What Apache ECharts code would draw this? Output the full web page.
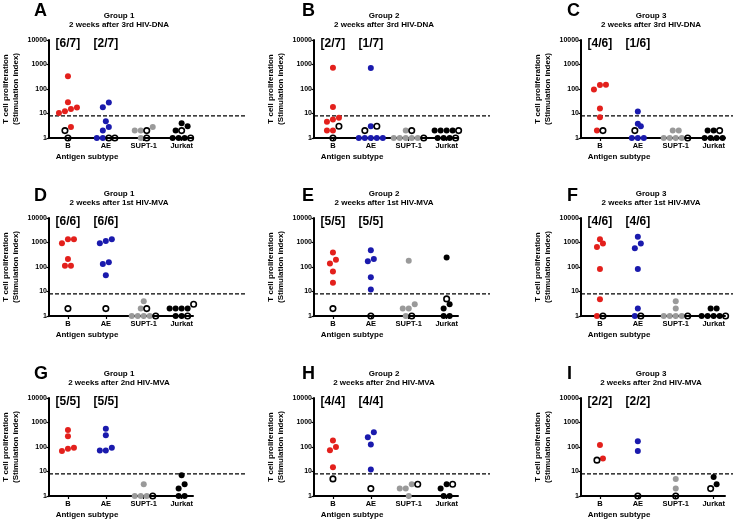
<!DOCTYPE html>
<html><head><meta charset="utf-8">
<script src="https://cdn.jsdelivr.net/npm/echarts/dist/echarts.min.js"></script>
<style>html,body{margin:0;padding:0;background:#fff}#main{width:733px;height:522px}</style>
</head><body><div id="main"></div>
<script>
// ---------- data ----------
const categories = ['B', 'AE', 'SUPT-1', 'Jurkat'];
const groupTitles = ['Group 1', 'Group 2', 'Group 3'];
const timepoints = ['2 weeks after 3rd HIV-DNA', '2 weeks after 1st HIV-MVA', '2 weeks after 2nd HIV-MVA'];
const panelLetters = ['A', 'B', 'C', 'D', 'E', 'F', 'G', 'H', 'I'];
const yTicks = [1, 10, 100, 1000, 10000];
const cutoff = 8;

// vaccinated animals (filled dots) per antigen: B, AE, SUPT-1, Jurkat
const vaccA = [[333, 29, 17.4, 15.4, 12.3, 10.5, 2.8], [28, 18, 4.8, 2.8, 2, 1, 1], [2.8, 2, 2, 1], [4, 3, 2, 1, 1, 1]];
const vaccB = [[740, 18.6, 6.7, 5.7, 4.6, 2, 2], [720, 3, 1, 1, 1, 1, 1], [2, 1, 1, 1, 1, 1], [2, 2, 2, 2, 1, 1, 1]];
const vaccC = [[150, 145, 95, 16, 7, 2], [12, 3.8, 3, 1, 1, 1], [2, 2, 1, 1, 1, 1], [2, 2, 1, 1, 1, 1]];
const vaccD = [[1350, 1350, 930, 210, 113, 113], [1350, 1150, 930, 155, 132, 46], [4, 2, 1, 1, 1, 1], [2, 2, 2, 2, 1, 1]];
const vaccE = [[390, 198, 140, 65, 23], [480, 210, 170, 38, 12], [180, 3, 2, 2, 1], [245, 3, 2, 1, 1]];
const vaccF = [[1350, 900, 660, 83, 4.8, 1], [1700, 900, 580, 83, 2, 1], [4, 2, 1, 1, 1, 1], [2, 2, 1, 1, 1, 1]];
const vaccG = [[490, 277, 93, 85, 68], [550, 305, 93, 72, 72], [3, 1, 1, 1], [7, 3, 2, 1, 1]];
const vaccH = [[185, 100, 74, 15], [400, 250, 126, 12.2], [3, 2, 2, 1], [3, 2, 1, 1]];
const vaccI = [[120, 34], [173, 68], [5, 2], [6, 3]];

// control animals (open circles)
const ctrlA = [[2, 1], [1, 1], [2, 1], [2, 1]];
const ctrlB = [[3, 1], [2, 3], [2, 1], [2, 1]];
const ctrlC = [[2], [2], [1], [2]];
const ctrlD = [[2], [2], [2, 1], [3, 1]];
const ctrlE = [[2], [1], [1], [5]];
const ctrlF = [[1], [1], [1], [1]];
const ctrlG = [[], [], [1], []];
const ctrlH = [[5], [2], [3], [3]];
const ctrlI = [[29], [1], [1], [2]];

// responders [B, AE]
const respA = ['[6/7]', '[2/7]'];
const respB = ['[2/7]', '[1/7]'];
const respC = ['[4/6]', '[1/6]'];
const respD = ['[6/6]', '[6/6]'];
const respE = ['[5/5]', '[5/5]'];
const respF = ['[4/6]', '[4/6]'];
const respG = ['[5/5]', '[5/5]'];
const respH = ['[4/4]', '[4/4]'];
const respI = ['[2/2]', '[2/2]'];

const vaccs = [vaccA, vaccB, vaccC, vaccD, vaccE, vaccF, vaccG, vaccH, vaccI];
const ctrls = [ctrlA, ctrlB, ctrlC, ctrlD, ctrlE, ctrlF, ctrlG, ctrlH, ctrlI];
const resps = [respA, respB, respC, respD, respE, respF, respG, respH, respI];

// ---------- layout / style ----------
const FONT = 'Arial, "Liberation Sans", sans-serif';
const colors = ['#e3201c', '#1a1aad', '#9a9a9a', '#000000'];
const colLeft = [49, 314, 581];
const colEnd = [245, 490, 733];
const rowTop = [40, 218, 398];
const letterX = [34, 302, 567];
const letterY = [11.5, 196.5, 374.5];
const W = 144, H = 98, X_MAX = 3.8;
const SYM = 6;
const unitPx = W / X_MAX;
const pxPerDecade = H / 4;
const rowSpan = SYM / pxPerDecade;

function swarm(points) {
  const pts = points.slice().sort((a, b) => a.v - b.v);
  const rows = [];
  let cur = null;
  pts.forEach(p => {
    const lv = Math.log10(p.v);
    if (!cur || lv - cur.start >= rowSpan) { cur = { start: lv, items: [] }; rows.push(cur); }
    cur.items.push(p);
  });
  rows.forEach(r => r.items.forEach((p, i) => { p.dx = (i - (r.items.length - 1) / 2) * SYM / unitPx; }));
  return pts;
}

const grid = [], xAxis = [], yAxis = [], series = [], graphic = [];
const catPos = categories.map((c, i) => i + 0.5);

for (let k = 0; k < 9; k++) {
  const r = Math.floor(k / 3), c = k % 3;
  const L = colLeft[c], T = rowTop[r];
  const gi = grid.length;
  grid.push({ left: L, top: T, width: W, height: H });
  grid.push({ left: L, top: T, width: colEnd[c] - L, height: H });
  xAxis.push({
    gridIndex: gi, type: 'value', min: 0, max: X_MAX,
    axisLine: { show: true, onZero: false, lineStyle: { color: '#000', width: 2 } },
    axisTick: { show: true, customValues: catPos, length: 3, lineStyle: { color: '#000', width: 1.2 } },
    axisLabel: { show: true, customValues: catPos, margin: 4, color: '#000', fontSize: 7.5, fontWeight: 'bold', fontFamily: FONT,
      formatter: v => categories[Math.round(v - 0.5)] },
    splitLine: { show: false }
  });
  xAxis.push({ gridIndex: gi + 1, type: 'value', min: 0, max: 1, show: false });
  yAxis.push({
    gridIndex: gi, type: 'log', logBase: 10, min: yTicks[0], max: yTicks[yTicks.length - 1],
    name: 'T cell proliferation\n(Stimulation index)', nameLocation: 'middle', nameGap: 28, nameRotate: 90,
    nameTextStyle: { fontSize: 8, fontWeight: 'bold', fontFamily: FONT, color: '#000', lineHeight: 10 },
    axisLine: { show: true, onZero: false, lineStyle: { color: '#000', width: 2 } },
    axisTick: { show: true, length: 2.5, lineStyle: { color: '#000', width: 1.2 } },
    axisLabel: { show: true, margin: 2, color: '#000', fontSize: 7, fontWeight: 'bold', fontFamily: FONT,
      formatter: v => String(Math.round(v)) },
    splitLine: { show: false }, minorTick: { show: false }
  });
  yAxis.push({ gridIndex: gi + 1, type: 'log', logBase: 10, min: yTicks[0], max: yTicks[yTicks.length - 1], show: false });

  const filled = categories.map(() => []);
  const open = [];
  categories.forEach((cat, i) => {
    const pts = vaccs[k][i].map(v => ({ v, kind: 'v' })).concat(ctrls[k][i].map(v => ({ v, kind: 'c' })));
    swarm(pts).forEach(p => {
      const pt = [catPos[i] + p.dx, p.v];
      if (p.kind === 'v') filled[i].push(pt); else open.push(pt);
    });
  });
  categories.forEach((cat, i) => {
    series.push({ type: 'scatter', xAxisIndex: gi, yAxisIndex: gi, data: filled[i], symbol: 'circle', symbolSize: SYM,
      itemStyle: { color: colors[i], opacity: 1 }, clip: false, silent: true, z: 3 });
  });
  series.push({ type: 'scatter', xAxisIndex: gi, yAxisIndex: gi, data: open, symbol: 'circle', symbolSize: SYM - 0.5,
    itemStyle: { color: 'rgba(255,255,255,0)', borderColor: '#000', borderWidth: 1.6, opacity: 1 }, clip: false, silent: true, z: 4 });
  const rs = resps[k];
  series.push({ type: 'scatter', xAxisIndex: gi, yAxisIndex: gi, symbolSize: 0, clip: false, silent: true,
    itemStyle: { opacity: 1, color: '#000' },
    data: rs.map((t, i) => [catPos[i], yTicks[yTicks.length - 1]]),
    label: { show: true, position: 'inside', offset: [0, 4], formatter: pp => rs[pp.dataIndex],
      fontSize: 12, fontWeight: 'bold', fontFamily: FONT, color: '#000', opacity: 1 } });
  series.push({ type: 'line', xAxisIndex: gi + 1, yAxisIndex: gi + 1, data: [[0, cutoff], [1, cutoff]], symbol: 'none',
    silent: true, lineStyle: { color: '#000', width: 1.2, type: [4, 2] }, z: 1 });

  graphic.push({ type: 'text', x: letterX[c], y: letterY[r], style: { text: panelLetters[k], font: 'bold 18px ' + FONT, fill: '#000', align: 'left', verticalAlign: 'middle' } });
  graphic.push({ type: 'text', x: L + 70, y: T - 24, style: { text: groupTitles[c], font: 'bold 8px ' + FONT, fill: '#000', align: 'center', verticalAlign: 'middle' } });
  graphic.push({ type: 'text', x: L + 70, y: T - 15, style: { text: timepoints[r], font: 'bold 8px ' + FONT, fill: '#000', align: 'center', verticalAlign: 'middle' } });
  graphic.push({ type: 'text', x: L + 38, y: T + H + 19, style: { text: 'Antigen subtype', font: 'bold 8px ' + FONT, fill: '#000', align: 'center', verticalAlign: 'middle' } });
}

const chart = echarts.init(document.getElementById('main'), null, { renderer: 'canvas' });
chart.setOption({ animation: false, backgroundColor: '#fff', grid, xAxis, yAxis, series, graphic });
</script></body></html>
